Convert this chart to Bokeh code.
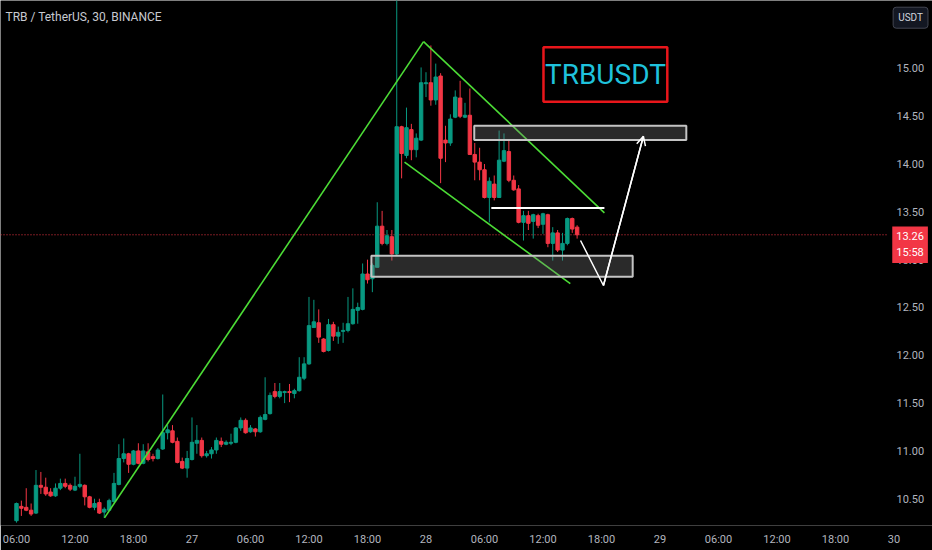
from bokeh.plotting import figure
from bokeh.models import ColumnDataSource, FixedTicker, NumeralTickFormatter, Label, Arrow, OpenHead, Range1d
from bokeh.core.properties import value
from bokeh.embed import file_html
from bokeh.resources import INLINE

# ---- data: 30-minute candles, index 0 = 26th 06:00 ----
opens = [10.27, 10.42, 10.41, 10.38, 10.35, 10.64, 10.62, 10.57, 10.53, 10.61,
         10.66, 10.64, 10.59, 10.63, 10.64, 10.52, 10.41, 10.46, 10.36, 10.38,
         10.47, 10.65, 10.92, 10.97, 10.86, 11.00, 10.87, 10.99, 10.94, 10.92,
         11.02, 11.19, 11.21, 11.10, 10.89, 10.82, 10.91, 11.08, 11.11, 10.95,
         10.97, 11.01, 11.10, 11.07, 11.08, 11.09, 11.24, 11.32, 11.20, 11.23,
         11.20, 11.33, 11.39, 11.62, 11.57, 11.61, 11.62, 11.60, 11.63, 11.76,
         11.91, 12.29, 12.34, 12.17, 12.05, 12.32, 12.20, 12.25, 12.26, 12.33,
         12.47, 12.48, 12.85, 12.80, 12.92, 13.35, 13.17, 13.24, 13.06, 14.39,
         14.09, 14.36, 14.15, 14.25, 14.84, 14.85, 14.67, 14.92, 14.25, 14.22,
         14.49, 14.69, 14.49, 14.51, 14.10, 14.02, 13.94, 13.65, 13.79, 13.65,
         14.03, 14.13, 13.83, 13.74, 13.39, 13.46, 13.40, 13.46, 13.37, 13.47,
         13.17, 13.28, 13.10, 13.17, 13.43, 13.34]
highs = [10.46, 10.48, 10.61, 10.45, 10.80, 10.78, 10.72, 10.61, 10.66, 10.71,
         10.71, 10.66, 10.73, 10.97, 10.65, 10.53, 10.50, 10.50, 10.41, 10.50,
         10.77, 11.07, 11.13, 10.98, 11.01, 11.08, 11.07, 11.08, 10.97, 11.03,
         11.59, 11.27, 11.27, 11.14, 10.93, 11.00, 11.35, 11.27, 11.14, 11.00,
         11.04, 11.14, 11.14, 11.11, 11.18, 11.25, 11.35, 11.34, 11.27, 11.24,
         11.37, 11.77, 11.61, 11.71, 11.71, 11.63, 11.70, 11.65, 11.98, 11.98,
         12.61, 12.58, 12.48, 12.18, 12.38, 12.35, 12.30, 12.34, 12.61, 12.70,
         12.55, 12.96, 13.00, 12.96, 13.60, 13.51, 13.31, 13.31, 15.85, 14.40,
         14.59, 14.42, 14.32, 15.01, 14.96, 15.24, 15.05, 14.95, 14.40, 14.52,
         14.77, 14.87, 14.64, 14.79, 14.22, 14.17, 14.00, 13.86, 13.88, 14.35,
         14.32, 14.25, 13.88, 13.78, 13.51, 13.51, 13.48, 13.48, 13.49, 13.48,
         13.34, 13.31, 13.28, 13.44, 13.44, 13.36]
lows = [10.25, 10.32, 10.37, 10.32, 10.34, 10.55, 10.53, 10.52, 10.52, 10.59,
        10.61, 10.58, 10.58, 10.61, 10.43, 10.40, 10.38, 10.34, 10.30, 10.37,
        10.46, 10.64, 10.88, 10.77, 10.85, 10.86, 10.86, 10.89, 10.89, 10.91,
        11.01, 11.12, 11.08, 10.87, 10.81, 10.72, 10.90, 10.97, 10.93, 10.93,
        10.92, 10.97, 11.04, 11.06, 11.06, 11.08, 11.21, 11.18, 11.19, 11.15,
        11.19, 11.32, 11.38, 11.55, 11.55, 11.50, 11.51, 11.55, 11.62, 11.74,
        11.90, 12.29, 12.13, 12.03, 12.04, 12.15, 12.12, 12.13, 12.24, 12.32,
        12.33, 12.47, 12.75, 12.66, 12.92, 13.15, 13.15, 12.99, 13.04, 13.85,
        14.06, 14.04, 14.07, 14.24, 14.70, 14.61, 14.62, 13.80, 14.02, 14.19,
        14.48, 14.48, 14.48, 14.10, 13.83, 13.83, 13.64, 13.39, 13.62, 13.65,
        14.02, 13.81, 13.72, 13.38, 13.20, 13.31, 13.22, 13.33, 13.27, 13.13,
        12.99, 13.08, 12.99, 13.15, 13.28, 13.22]
closes = [10.45, 10.40, 10.38, 10.34, 10.64, 10.62, 10.55, 10.53, 10.61, 10.66,
          10.63, 10.60, 10.63, 10.65, 10.52, 10.41, 10.45, 10.35, 10.39, 10.48,
          10.66, 10.92, 10.97, 10.86, 11.00, 10.87, 11.00, 10.91, 10.92, 11.01,
          11.19, 11.22, 11.09, 10.88, 10.82, 10.92, 11.09, 11.11, 10.95, 10.97,
          11.01, 11.11, 11.07, 11.09, 11.09, 11.24, 11.32, 11.19, 11.24, 11.20,
          11.35, 11.38, 11.58, 11.57, 11.62, 11.62, 11.61, 11.63, 11.77, 11.91,
          12.31, 12.35, 12.19, 12.04, 12.32, 12.20, 12.24, 12.26, 12.33, 12.48,
          12.50, 12.85, 12.79, 12.94, 13.35, 13.17, 13.25, 13.06, 14.39, 14.11,
          14.38, 14.15, 14.27, 14.85, 14.85, 14.67, 14.91, 14.06, 14.22, 14.47,
          14.70, 14.50, 14.51, 14.10, 14.02, 13.94, 13.65, 13.82, 13.65, 14.04,
          14.14, 13.83, 13.73, 13.39, 13.46, 13.38, 13.47, 13.36, 13.48, 13.17,
          13.28, 13.10, 13.17, 13.43, 13.32, 13.26]
candle_idx = list(range(len(opens)))

time_ticks = [0, 12, 24, 36, 48, 60, 72, 84, 96, 108, 120, 132, 144, 156, 168, 180]
time_labels = ["06:00", "12:00", "18:00", "27", "06:00", "12:00", "18:00", "28",
               "06:00", "12:00", "18:00", "29", "06:00", "12:00", "18:00", "30"]
price_ticks = [10.5, 11.0, 11.5, 12.0, 12.5, 13.0, 13.5, 14.0, 14.5, 15.0]
last_price = 13.26
countdown = "15:58"
chart_title = "TRB / TetherUS, 30, BINANCE"
currency = "USDT"
symbol_note = "TRBUSDT"

# drawings (index, price)
rise_x = [18.05, 83.5]
rise_y = [10.30, 15.28]
chan_top_x = [83.5, 120.6]
chan_top_y = [15.28, 13.49]
chan_bot_x = [79.6, 113.6]
chan_bot_y = [14.02, 12.75]
zone_left = [93.9, 72.8]
zone_right = [137.4, 126.4]
zone_bottom = [14.25, 12.82]
zone_top = [14.40, 13.04]
neck_x = [97.4, 120.6]
neck_y = [13.54, 13.54]
path_x = [115.7, 120.4]
path_y = [13.20, 12.73]
arrow_end_x = 128.6
arrow_end_y = 14.29
note_left, note_right, note_bottom, note_top = 108.1, 133.5, 14.65, 15.22
pane_end = 178.67   # right edge of the candle pane (price scale starts after it)

GREEN = "#089981"
RED = "#f23645"
colors = [GREEN if c >= o else RED for o, c in zip(opens, closes)]
src = ColumnDataSource(dict(x=candle_idx, o=opens, h=highs, l=lows, c=closes,
                            top=[max(o, c) for o, c in zip(opens, closes)],
                            bot=[min(o, c) for o, c in zip(opens, closes)],
                            color=colors))

p = figure(width=932, height=550, x_range=Range1d(-3.28, 187.9), y_range=Range1d(10.22, 15.71),
           output_backend="svg", toolbar_location=None, y_axis_location="right",
           min_border_left=0, min_border_top=0, min_border_right=0, min_border_bottom=25,
           background_fill_color="#000000", border_fill_color="#000000", outline_line_color=None)
p.xgrid.visible = False
p.ygrid.visible = False

AX_FONT = "Roboto"
AX_COL = "#b2b5be"
for ax in (p.xaxis[0], p.yaxis[0]):
    ax.axis_line_color = None
    ax.major_tick_line_color = None
    ax.minor_tick_line_color = None
    ax.major_tick_out = 0
    ax.major_tick_in = 0
    ax.major_label_text_color = AX_COL
    ax.major_label_text_font = AX_FONT
    ax.major_label_text_font_size = "11px"
p.xaxis.ticker = FixedTicker(ticks=time_ticks)
p.xaxis.major_label_overrides = {t: l for t, l in zip(time_ticks, time_labels)}
p.xaxis.major_label_standoff = 7
p.yaxis.ticker = FixedTicker(ticks=price_ticks)
p.yaxis.formatter = NumeralTickFormatter(format="0.00")
p.yaxis.major_label_standoff = -36

# last-price dotted line across the candle pane
p.line([-3.28, pane_end], [last_price, last_price], line_color=RED, line_dash="1 2", line_width=1)

p.segment(x0="x", y0="l", x1="x", y1="h", source=src, line_color="color", line_width=1)
p.vbar(x="x", width=0.7, top="top", bottom="bot", source=src, fill_color="color", line_color="color", line_width=1)

p.line(rise_x, rise_y, line_color="#4cdc36", line_width=1.6)
p.line(chan_top_x, chan_top_y, line_color="#4cdc36", line_width=1.6)
p.line(chan_bot_x, chan_bot_y, line_color="#4cdc36", line_width=1.6)

p.quad(left=zone_left, right=zone_right, bottom=zone_bottom, top=zone_top,
       fill_color="#808080", fill_alpha=0.33, line_color="#c4c4c4", line_width=2)
p.line(neck_x, neck_y, line_color="white", line_width=2)
p.line(path_x + [arrow_end_x], path_y + [arrow_end_y], line_color="white", line_width=1.5)
p.add_layout(Arrow(end=OpenHead(size=9, line_color="white", line_width=1.5),
                   x_start=path_x[-1], y_start=path_y[-1], x_end=arrow_end_x, y_end=arrow_end_y,
                   line_color="white", line_width=1.5))

p.quad(left=[note_left], right=[note_right], bottom=[note_bottom], top=[note_top],
       fill_color=None, line_color="#e8161b", line_width=2.5)
p.text(x=[(note_left + note_right) / 2], y=[(note_bottom + note_top) / 2],
       text=[symbol_note], text_align="center", text_baseline="middle", text_color="#1fc2dc",
       text_font=value("Roboto"), text_font_size="28px")

p.add_layout(Label(x=-2.26, y=15.54, text=chart_title, text_color="#c8cad0", text_font="Roboto",
                   text_font_size="12px", text_baseline="middle"))
p.add_layout(Label(x=183.3, y=13.347, text="%.2f\n%s" % (last_price, countdown),
                   text_color="white", text_font=AX_FONT, text_font_size="11px",
                   text_align="center", text_baseline="top", background_fill_color=RED, padding=4))
p.add_layout(Label(x=183.4, y=15.53, text=currency, text_color="#d1d4dc", text_font=AX_FONT,
                   text_font_size="10px", text_align="center", text_baseline="middle",
                   background_fill_color="#131722", border_line_color="#434651", padding=5, border_radius=3))

open("out.html", "w").write(file_html(p, INLINE))
